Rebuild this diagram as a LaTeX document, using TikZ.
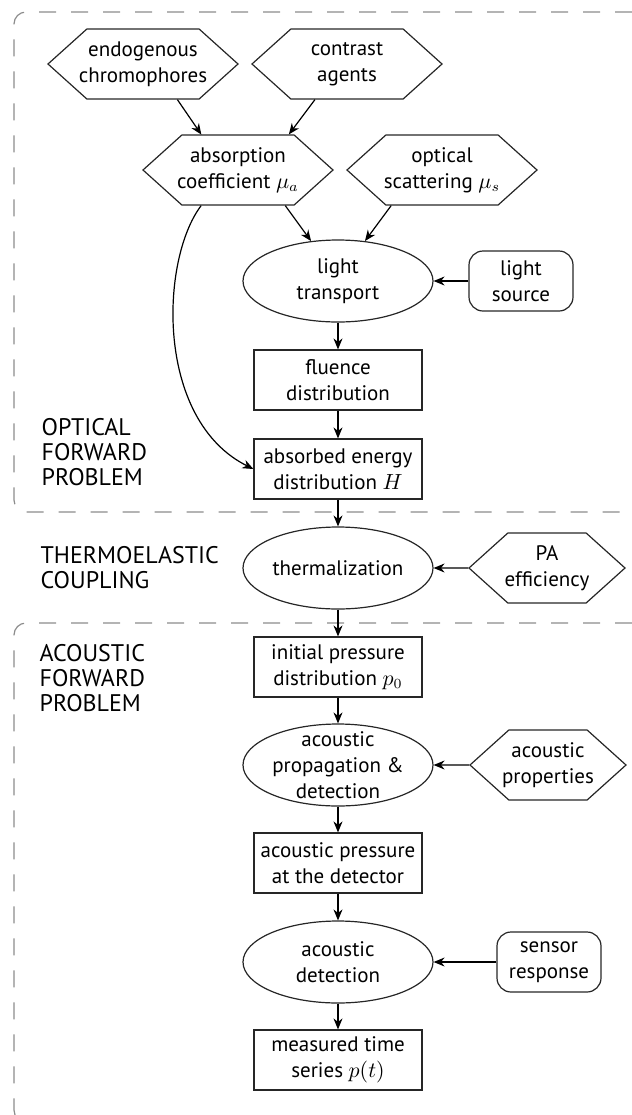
\documentclass[tikz,border=0pt]{standalone}
\usepackage{fontspec}
\setmainfont{PT Sans}
\usetikzlibrary{shapes.geometric,shapes.symbols,arrows.meta}
\begin{document}
\begin{tikzpicture}[x=0.5pt,y=-0.5pt,line width=0.6pt,
  font=\fontsize{10.5}{13}\selectfont,>={Stealth[length=5.5pt,width=4.5pt]}]
\tikzstyle{hexa}=[draw=black!85,signal,signal to=east and west,signal pointer angle=84,
  align=center,inner xsep=-5pt,inner ysep=1pt,minimum width=95pt,minimum height=35pt]
\tikzstyle{blob}=[draw=black!85,ellipse,align=center,inner xsep=-2pt,inner ysep=-4pt,
  minimum width=95pt,minimum height=41pt]
\tikzstyle{box}=[draw=black!85,rectangle,align=center,minimum width=84pt,minimum height=30pt]
\tikzstyle{knob}=[draw=black!85,rectangle,rounded corners=7pt,align=center,
  minimum width=52pt,minimum height=30pt]
\tikzstyle{region}=[draw=black!45,dash pattern=on 8.5pt off 7.5pt,rounded corners=6pt]
\tikzstyle{tag}=[anchor=west,align=left,inner sep=0pt,font=\fontsize{12}{12.5}\selectfont]
\useasboundingbox (0,0) rectangle (632,1115);

% dashed regions
\draw[region] (632,12) -- (14,12) -- (14,512) -- (632,512);
\draw[region] (632,623) -- (14,623) -- (14,1122) -- (632,1122);
\node[tag] at (41,452) (optical) {OPTICAL\\FORWARD\\PROBLEM};
\node[tag] at (40,568) (coupling) {THERMOELASTIC\\COUPLING};
\node[tag] at (39,678) (acoustic) {ACOUSTIC\\FORWARD\\PROBLEM};

\node[hexa] at (143,64) (endo) {endogenous\\chromophores};
\node[hexa] at (347,64) (contrast) {contrast\\agents};
\node[hexa] at (238,170) (absorb) {absorption\\coefficient $\mu_a$};
\node[hexa] at (442,170) (scatter) {optical\\scattering $\mu_s$};
\node[blob] at (338,281) (transport) {light\\transport};
\node[knob] at (521,281) (source) {light\\source};
\node[box] at (338,380) (fluence) {fluence\\distribution};
\node[box] at (338,469) (energy) {absorbed energy\\distribution $H$};
\node[blob] at (338,568) (thermal) {thermalization};
\node[hexa,minimum width=78pt] at (547,568) (efficiency) {PA\\efficiency};
\node[box] at (338,667) (initial) {initial pressure\\distribution $p_0$};
\node[blob] at (338,765) (propagation) {acoustic\\propagation \&\\detection};
\node[hexa,minimum width=78pt] at (548,765) (properties) {acoustic\\properties};
\node[box] at (338,863) (pressure) {acoustic pressure\\at the detector};
\node[blob] at (338,962) (detection) {acoustic\\detection};
\node[knob] at (549,962) (sensor) {sensor\\response};
\node[box] at (338,1060) (measured) {measured time\\series $p(t)$};

\draw[->] (endo.314) -- (absorb.136);
\draw[->] (contrast.228) -- (absorb.35);
\draw[->] (absorb.323) -- (transport.124);
\draw[->] (scatter.215) -- (transport.56);
\draw[->] (absorb.224) .. controls (160,260) and (155,420) .. (energy.west);
\draw[->] (source) -- (transport);
\draw[->] (transport) -- (fluence);
\draw[->] (fluence) -- (energy);
\draw[->] (energy) -- (thermal);
\draw[->] (efficiency) -- (thermal);
\draw[->] (thermal) -- (initial);
\draw[->] (initial) -- (propagation);
\draw[->] (properties) -- (propagation);
\draw[->] (propagation) -- (pressure);
\draw[->] (pressure) -- (detection);
\draw[->] (sensor) -- (detection);
\draw[->] (detection) -- (measured);
\end{tikzpicture}
\end{document}
